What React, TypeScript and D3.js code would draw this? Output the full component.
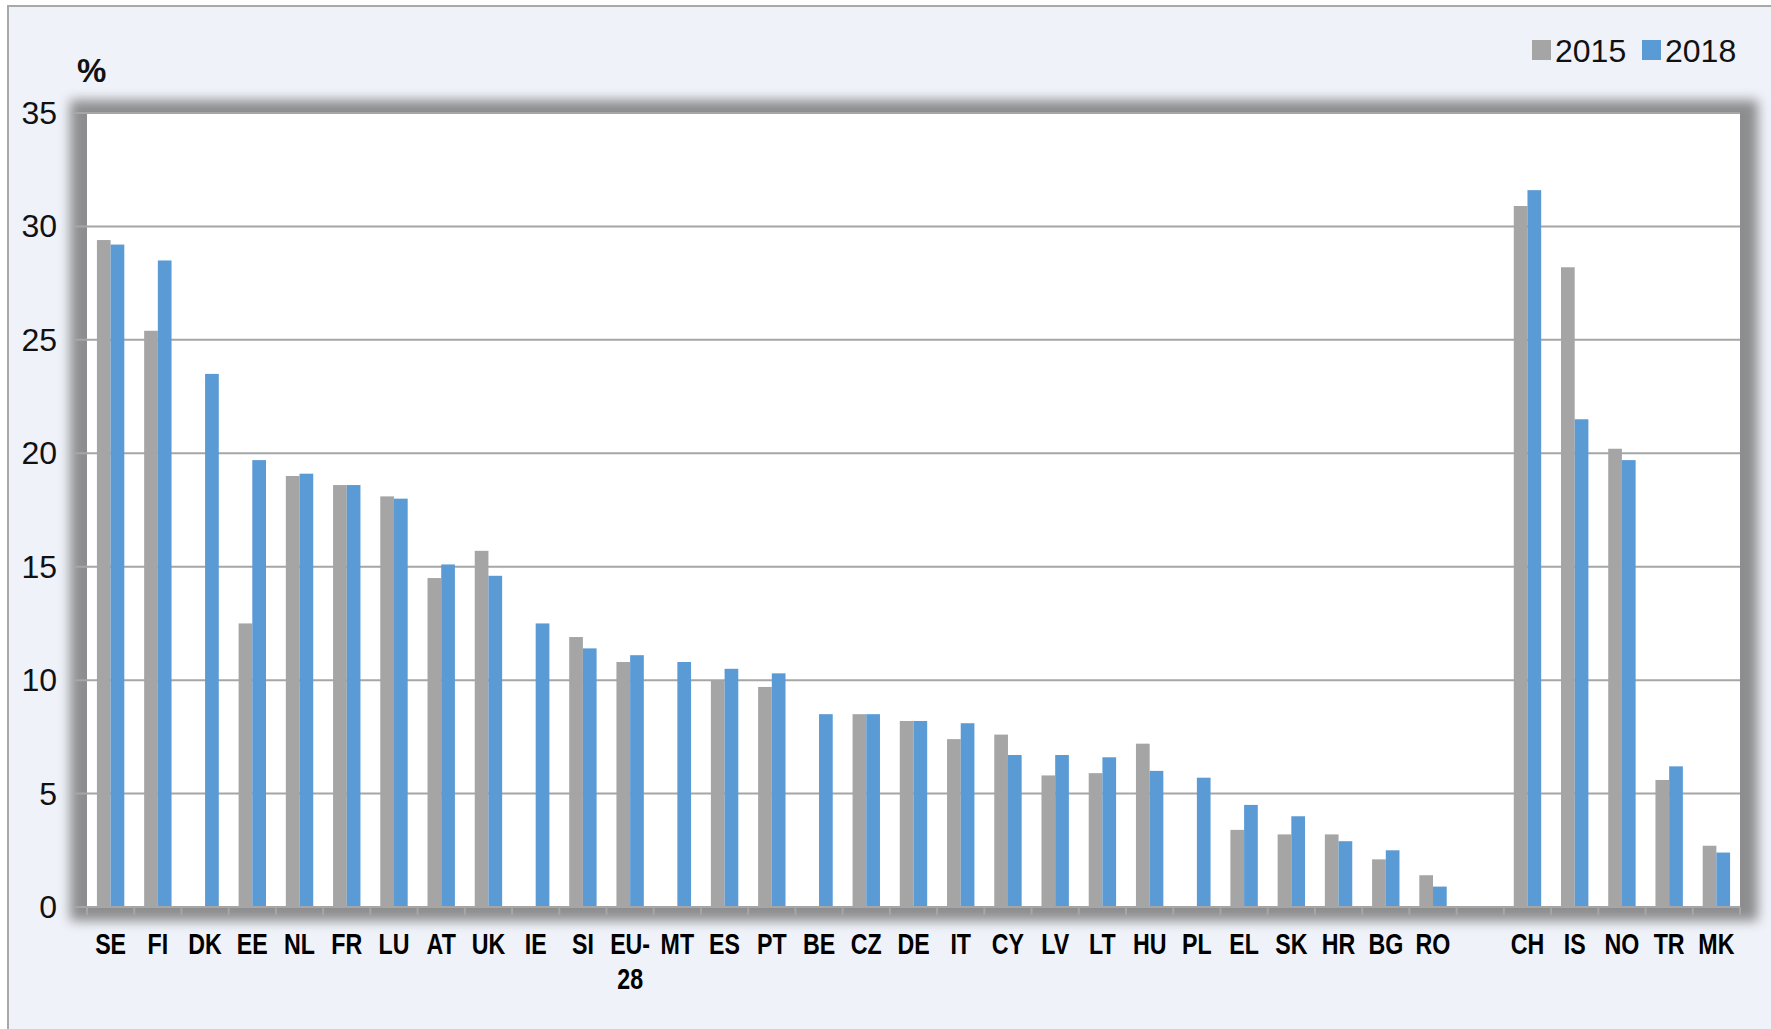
import React from "react";
import * as d3 from "d3";

// ---- Data ----
const euCountries = ["SE","FI","DK","EE","NL","FR","LU","AT","UK","IE","SI","EU-28","MT","ES","PT","BE","CZ","DE","IT","CY","LV","LT","HU","PL","EL","SK","HR","BG","RO"];
const euValues2015: (number | null)[] = [29.4,25.4,null,12.5,19.0,18.6,18.1,14.5,15.7,null,11.9,10.8,null,10.0,9.7,null,8.5,8.2,7.4,7.6,5.8,5.9,7.2,null,3.4,3.2,3.2,2.1,1.4];
const euValues2018: (number | null)[] = [29.2,28.5,23.5,19.7,19.1,18.6,18.0,15.1,14.6,12.5,11.4,11.1,10.8,10.5,10.3,8.5,8.5,8.2,8.1,6.7,6.7,6.6,6.0,5.7,4.5,4.0,2.9,2.5,0.9];
const otherCountries = ["CH","IS","NO","TR","MK"];
const otherValues2015: (number | null)[] = [30.9,28.2,20.2,5.6,2.7];
const otherValues2018: (number | null)[] = [31.6,21.5,19.7,6.2,2.4];
const yTicks = [0,5,10,15,20,25,30,35];
const seriesNames = ["2015","2018"];
const seriesColors = ["#a5a5a5","#5b9bd5"];

const GAP = "__gap__";
const domain = [...euCountries, GAP, ...otherCountries];
const v2015 = [...euValues2015, null, ...otherValues2015];
const v2018 = [...euValues2018, null, ...otherValues2018];

const W = 1771, H = 1029;
const plot = { left: 87, right: 1740, top: 113, bottom: 907 };

export default function App() {
  const x = d3.scaleBand<string>().domain(domain).range([plot.left, plot.right]).padding(0);
  const y = d3.scaleLinear().domain([0, 35]).range([plot.bottom, plot.top]);
  const bw = x.bandwidth();
  const barW = bw * 0.29;
  const boundaries = d3.range(domain.length + 1).map(i => plot.left + i * bw);
  const font = "'Liberation Sans', Arial, Helvetica, sans-serif";

  return (
    <svg width={W} height={H} style={{ position: "absolute", left: 0, top: 0, display: "block" }} fontFamily={font}>
      <defs>
        <filter id="shadow" x="-5%" y="-5%" width="110%" height="115%">
          <feGaussianBlur stdDeviation="6" />
        </filter>
      </defs>
      <rect x={0} y={0} width={W} height={H} fill="#ffffff" />
      <rect x={8} y={6} width={W + 10} height={H + 10} fill="#eff2f9" stroke="#a8a8a8" strokeWidth={2} />

      {/* plot shadow */}
      <rect x={70} y={100} width={plot.right + 18 - 70} height={plot.bottom + 14 - 100} fill="#747474" opacity={0.8} filter="url(#shadow)" />
      <rect x={plot.left} y={plot.top} width={plot.right - plot.left} height={plot.bottom - plot.top} fill="#ffffff" />

      {/* gridlines */}
      {yTicks.map(t => (
        <line key={"g" + t} x1={74} x2={plot.right} y1={y(t)} y2={y(t)} stroke="#a6a6a6" strokeWidth={2} />
      ))}

      {/* bars */}
      {domain.map((c, i) => {
        if (c === GAP) return null;
        const cx = (x(c) as number) + bw / 2;
        const a = v2015[i];
        const b = v2018[i];
        return (
          <g key={c}>
            {a != null && <rect x={cx - barW} y={y(a)} width={barW} height={y(0) - y(a)} fill={seriesColors[0]} />}
            {b != null && <rect x={cx} y={y(b)} width={barW} height={y(0) - y(b)} fill={seriesColors[1]} />}
          </g>
        );
      })}

      {/* x axis line & ticks */}
      <line x1={plot.left} x2={plot.right} y1={y(0)} y2={y(0)} stroke="#a6a6a6" strokeWidth={2} />
      {boundaries.map((bx, i) => (
        <line key={"t" + i} x1={bx} x2={bx} y1={y(0)} y2={y(0) + 8} stroke="#a6a6a6" strokeWidth={2} />
      ))}

      {/* y tick labels */}
      {yTicks.map(t => (
        <text key={"yl" + t} x={57} y={y(t)} textAnchor="end" dominantBaseline="central" fontSize={32} fill="#111">{t}</text>
      ))}

      {/* x labels */}
      {domain.map(c => {
        if (c === GAP) return null;
        const cx = (x(c) as number) + bw / 2;
        const lines = c === "EU-28" ? ["EU-", "28"] : [c];
        return (
          <g key={"xl" + c} transform={`translate(${cx},0) scale(0.8,1)`}>
            {lines.map((ln, k) => (
              <text key={k} x={0} y={954 + k * 35} textAnchor="middle" fontSize={29} fontWeight="bold" fill="#000">{ln}</text>
            ))}
          </g>
        );
      })}

      {/* % unit */}
      <text x={77} y={82} fontSize={33} fontWeight="bold" fill="#111">%</text>

      {/* legend */}
      <rect x={1532} y={40} width={19} height={20} fill={seriesColors[0]} />
      <text x={1555} y={62} fontSize={32} fill="#111">{seriesNames[0]}</text>
      <rect x={1642} y={40} width={19} height={20} fill={seriesColors[1]} />
      <text x={1665} y={62} fontSize={32} fill="#111">{seriesNames[1]}</text>
    </svg>
  );
}
